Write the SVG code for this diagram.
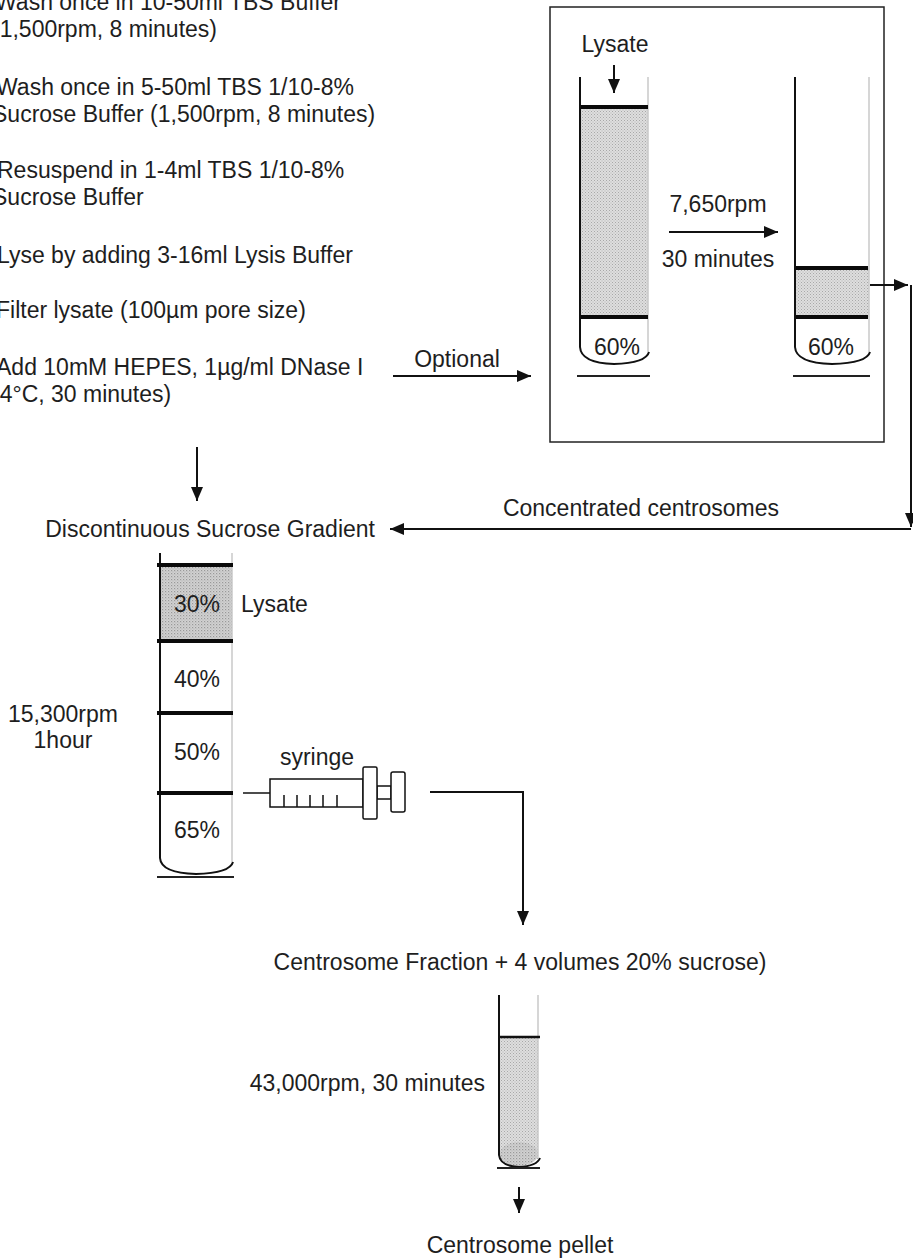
<svg xmlns="http://www.w3.org/2000/svg" width="913" height="1259" viewBox="0 0 913 1259">
<style>
text{font-family:"Liberation Sans",Arial,sans-serif;font-size:23px;fill:#1e1e1e}
.wall{stroke:#111;stroke-width:2;fill:none}
.fwall{stroke:#c8c8c8;stroke-width:1.5;fill:none}
.lvl{stroke:#0a0a0a;stroke-width:4}
.base{stroke:#222;stroke-width:1.8}
.conn{stroke:#111;stroke-width:2;fill:none}
.syr{stroke:#111;stroke-width:1.5;fill:#fff}
</style>
<defs>
<pattern id="stip" width="3" height="3" patternUnits="userSpaceOnUse">
<rect width="3" height="3" fill="#dedede"/>
<rect width="1" height="1" fill="#a8a8a8"/>
<rect x="1.5" y="1.5" width="1" height="1" fill="#b4b4b4"/>
</pattern>
<pattern id="stip2" width="3" height="3" patternUnits="userSpaceOnUse">
<rect width="3" height="3" fill="#d2d2d2"/>
<rect width="1.2" height="1.2" fill="#999"/>
<rect x="1.5" y="1.5" width="1" height="1" fill="#aaa"/>
</pattern>
<marker id="ah" markerWidth="14" markerHeight="12" refX="14" refY="6" orient="auto" markerUnits="userSpaceOnUse">
<path d="M0,0 L14,6 L0,12 z" fill="#111"/>
</marker>
</defs>

<g id="steps">
<text x="-5" y="10">Wash once in 10-50ml TBS Buffer</text>
<text x="-8" y="37">(1,500rpm, 8 minutes)</text>
<text x="-4" y="95">Wash once in 5-50ml TBS 1/10-8%</text>
<text x="-8" y="122">Sucrose Buffer (1,500rpm, 8 minutes)</text>
<text x="-3" y="178">Resuspend in 1-4ml TBS 1/10-8%</text>
<text x="-8" y="205">Sucrose Buffer</text>
<text x="-3" y="263">Lyse by adding 3-16ml Lysis Buffer</text>
<text x="-4" y="318">Filter lysate (100µm pore size)</text>
<text x="-4" y="375">Add 10mM HEPES, 1µg/ml DNase I</text>
<text x="-8" y="402">(4°C, 30 minutes)</text>
</g>

<g id="optional-box">
<rect x="550" y="7" width="334" height="435" fill="none" stroke="#222" stroke-width="1.5"/>
</g>

<g id="tube-lysate">
<rect x="581" y="107" width="67" height="210" fill="url(#stip)"/>
<line class="fwall" x1="648" y1="77" x2="648" y2="352"/>
<path class="wall" d="M580,77 V347 Q581,363 614,364 Q646,363 649,352"/>
<line class="lvl" x1="581" y1="107" x2="648" y2="107"/>
<line class="lvl" x1="581" y1="317" x2="648" y2="317"/>
<line class="base" x1="577" y1="376" x2="650" y2="376"/>
<text x="617" y="355" text-anchor="middle">60%</text>
<text x="615" y="52" text-anchor="middle">Lysate</text>
</g>

<g id="spin-label">
<text x="718" y="212" text-anchor="middle">7,650rpm</text>
<text x="718" y="267" text-anchor="middle">30 minutes</text>
</g>

<g id="tube-concentrated">
<rect x="796" y="268" width="73" height="49" fill="url(#stip)"/>
<line class="fwall" x1="869" y1="77" x2="869" y2="352"/>
<path class="wall" d="M795,77 V347 Q796,363 832,364 Q867,363 870,352"/>
<line class="lvl" x1="796" y1="268" x2="868" y2="268"/>
<line class="lvl" x1="796" y1="317" x2="868" y2="317"/>
<line class="base" x1="793" y1="376" x2="870" y2="376"/>
<text x="831" y="355" text-anchor="middle">60%</text>
</g>

<g id="gradient-title">
<text x="375" y="537" text-anchor="end">Discontinuous Sucrose Gradient</text>
<text x="641" y="516" text-anchor="middle">Concentrated centrosomes</text>
</g>

<g id="tube-gradient">
<rect x="161" y="565" width="71" height="76" fill="url(#stip2)"/>
<line class="fwall" x1="232" y1="553" x2="232" y2="862"/>
<path class="wall" d="M160,553 V858 Q161,873 196,874 Q230,873 233,862"/>
<line class="lvl" x1="157" y1="565" x2="233" y2="565"/>
<line class="lvl" x1="157" y1="641" x2="233" y2="641"/>
<line class="lvl" x1="157" y1="713" x2="233" y2="713"/>
<line class="lvl" x1="157" y1="793" x2="233" y2="793"/>
<line class="base" x1="157" y1="877" x2="234" y2="877"/>
<text x="197" y="612" text-anchor="middle">30%</text>
<text x="197" y="687" text-anchor="middle">40%</text>
<text x="197" y="760" text-anchor="middle">50%</text>
<text x="197" y="838" text-anchor="middle">65%</text>
<text x="241" y="612">Lysate</text>
<text x="63" y="722" text-anchor="middle">15,300rpm</text>
<text x="63" y="748" text-anchor="middle">1hour</text>
</g>

<g id="syringe">
<line x1="243" y1="793" x2="270" y2="793" stroke="#111" stroke-width="1.5"/>
<rect class="syr" x="270" y="779" width="93" height="28"/>
<path d="M284,807 V795 M297,807 V795 M310,807 V795 M323,807 V795 M337,807 V795" stroke="#111" stroke-width="1.5"/>
<rect class="syr" x="377" y="786" width="14" height="13"/>
<rect class="syr" x="363" y="767" width="14" height="52" rx="1.5"/>
<rect class="syr" x="391" y="772" width="14" height="40" rx="2"/>
<text x="317" y="765" text-anchor="middle">syringe</text>
</g>

<g id="fraction">
<text x="520" y="970" text-anchor="middle">Centrosome Fraction + 4 volumes 20% sucrose)</text>
</g>

<g id="tube-final">
<rect x="500" y="1037" width="38" height="122" fill="url(#stip)"/>
<ellipse cx="519" cy="1154" rx="19" ry="12" fill="url(#stip2)"/>
<line class="fwall" x1="538" y1="995" x2="538" y2="1158"/>
<path class="wall" d="M499,995 V1155 Q500,1166 519,1167 Q537,1166 540,1158"/>
<line x1="499" y1="1037" x2="540" y2="1037" stroke="#111" stroke-width="2.5"/>
<line class="base" x1="497" y1="1168" x2="540" y2="1168"/>
<text x="485" y="1091" text-anchor="end">43,000rpm, 30 minutes</text>
</g>

<g id="pellet">
<text x="520" y="1253" text-anchor="middle">Centrosome pellet</text>
</g>

<g id="connectors">
<line class="conn" x1="614" y1="65" x2="614" y2="93" marker-end="url(#ah)"/>
<line class="conn" x1="669" y1="232" x2="778" y2="232" marker-end="url(#ah)"/>
<line class="conn" x1="393" y1="376" x2="531" y2="376" marker-end="url(#ah)"/>
<text x="457" y="367" text-anchor="middle">Optional</text>
<line class="conn" x1="870" y1="285" x2="908" y2="285" marker-end="url(#ah)"/>
<line class="conn" x1="911" y1="285" x2="911" y2="527" marker-end="url(#ah)"/>
<line class="conn" x1="911" y1="529" x2="390" y2="529" marker-end="url(#ah)"/>
<line class="conn" x1="197" y1="447" x2="197" y2="501" marker-end="url(#ah)"/>
<polyline class="conn" points="430,792 523,792 523,925" marker-end="url(#ah)"/>
<line class="conn" x1="519" y1="1187" x2="519" y2="1213" marker-end="url(#ah)"/>
</g>
</svg>
